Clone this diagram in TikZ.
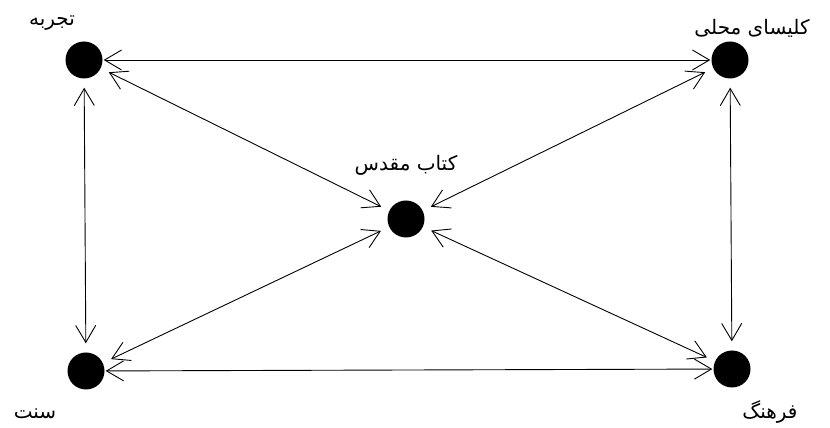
\documentclass[tikz,border=0pt]{standalone}
\usepackage{fontspec}
\usetikzlibrary{arrows.meta}
\newfontfamily\arabicfont[Script=Arabic]{DejaVu Sans}
\TeXXeTstate=1
\begin{document}
\begin{tikzpicture}[x=1pt,y=1pt,
  dot/.style={circle,fill=black,inner sep=0pt,minimum size=37pt},
  lbl/.style={font=\arabicfont\fontsize{20}{22}\selectfont,inner sep=0pt},
  link/.style={{Straight Barb[length=17pt,width=20pt]}-{Straight Barb[length=17pt,width=20pt]},line width=0.9pt},
  hlink/.style={link,shorten <=1pt,shorten >=1pt},
  dlink/.style={link,shorten <=9pt,shorten >=9pt}]
\useasboundingbox (0,0) rectangle (830,428);
\node[dot] (tl) at (84,368) {};
\node[dot] (tr) at (730,368) {};
\node[dot] (c) at (406,209) {};
\node[dot] (bl) at (86,57) {};
\node[dot] (br) at (732,59) {};
\node[lbl] (ltl) at (52,405) {\beginR تجربه\endR};
\node[lbl] (ltr) at (752,400) {\beginR کلیسای محلی\endR};
\node[lbl] (lc) at (406,263) {\beginR کتاب مقدس\endR};
\node[lbl] (lbl) at (35,14) {\beginR سنت\endR};
\node[lbl] (lbr) at (770,16) {\beginR فرهنگ\endR};
\draw[hlink] (tl) -- (tr);
\draw[hlink] (bl) -- (br);
\draw[dlink] (tl) -- (bl);
\draw[dlink] (tr) -- (br);
\draw[dlink] (tl) -- (c);
\draw[dlink] (tr) -- (c);
\draw[dlink] (bl) -- (c);
\draw[dlink] (br) -- (c);
\end{tikzpicture}
\end{document}
